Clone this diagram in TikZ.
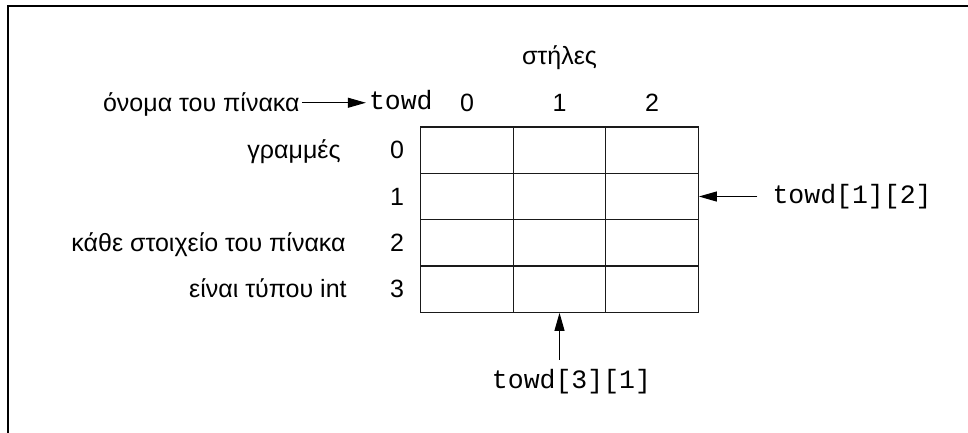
\documentclass[tikz,border=0pt]{standalone}
\usepackage{fontspec}
\setmainfont{Liberation Sans}
\setmonofont{Liberation Mono}
\usepackage{xcolor}
\definecolor{cInk}{HTML}{000000}
\definecolor{cGrid}{HTML}{1A1A1A}
\usetikzlibrary{positioning,arrows.meta}
\tikzset{
  label-sans/.style={font=\fontsize{25}{29}\selectfont,inner sep=0pt,
    text height=17pt,text depth=0pt,text=cInk},
  label-mono/.style={font=\ttfamily\fontsize{26.5}{30}\selectfont,inner sep=0pt,
    text height=14pt,text depth=0pt,text=cInk},
  cell-box/.style={draw=cGrid,line width=1.2pt,inner sep=0pt,
    minimum width=92.5pt,minimum height=46.3pt},
  arrow/.style={-{Triangle[length=18pt,width=10pt]},line width=1pt,draw=cInk},
  frame-line/.style={line width=2.5pt,draw=cInk},
}

\begin{document}
\begin{tikzpicture}[x=1pt,y=-1pt,node distance=14pt]
  \useasboundingbox (0,0) rectangle (968,432);
  \begin{scope}
    \clip (0,0) rectangle (968,432);
    \draw[frame-line] (8,6) rectangle (990,460);
  \end{scope}

  % 4 x 3 array of cells
  \foreach \r in {0,...,3}
    \foreach \c in {0,1,2}
      \node[cell-box] (c\r\c) at ({467+92.5*\c},{150.2+46.3*\r}) {};

  % indices
  \foreach \c in {0,1,2}
    \node[label-sans,above=15pt of c0\c] (k\c) {\c};
  \foreach \r in {0,...,3}
    \node[label-sans,left=16pt of c\r0] (r\r) {\r};

  \node[label-sans,above=29pt of k1] (cols) {στήλες};
  \node[label-mono,left=27pt of k0] (towd) {towd};
  \node[label-sans,left=69pt of towd] (onoma) {όνομα του πίνακα};
  \node[label-sans,left=49pt of r0] (rows) {γραμμές};
  \node[label-sans,left=44pt of r2] (elem) {κάθε στοιχείο του πίνακα};
  \node[label-sans,left=43pt of r3] (type) {είναι τύπου int};

  \node[label-mono,right=73.5pt of c12] (idx12) {towd[1][2]};
  \node[label-mono,below=61.7pt of c31,xshift=12pt] (idx31) {towd[3][1]};

  \draw[arrow,shorten <=2pt,shorten >=3pt] (onoma) -- (towd);
  \draw[arrow,shorten <=15pt] (idx12) -- (c12.east);
  \draw[arrow,shorten <=15pt] (c31.south |- idx31.north) -- (c31.south);
\end{tikzpicture}
\end{document}
